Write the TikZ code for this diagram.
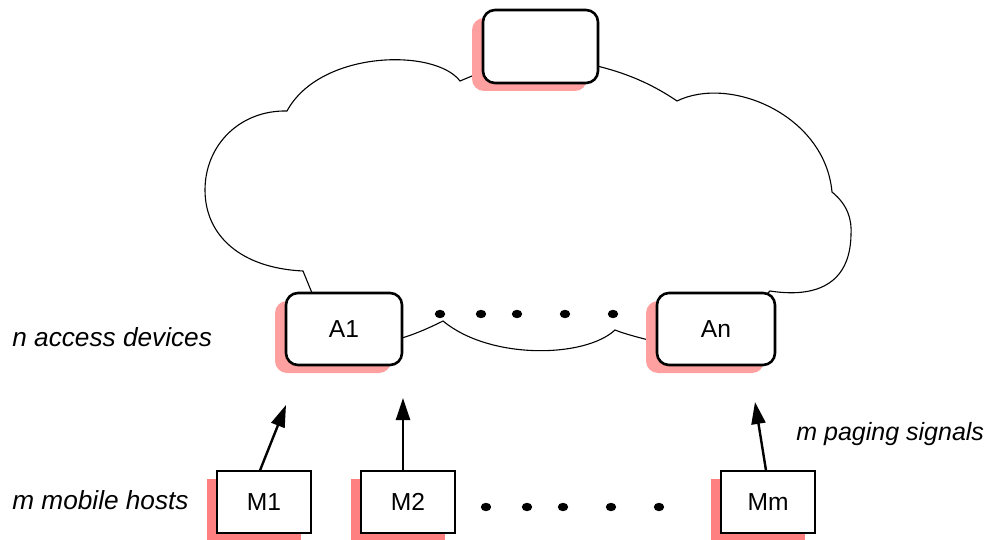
\documentclass[tikz,border=0pt]{standalone}
\usepackage{fontspec}
\setmainfont{Liberation Sans}
\usetikzlibrary{arrows.meta,shadows}
\definecolor{shadowpink}{RGB}{255,160,160}
\definecolor{hostpink}{RGB}{255,128,128}

\begin{document}
\begin{tikzpicture}[
    x=0.5pt, y=-0.5pt,
    cloudline/.style={draw, line width=0.55pt, line join=miter},
    device/.style={draw, line width=1.3pt, rounded corners=6pt, fill=white, minimum width=58pt, minimum height=36pt, inner sep=0pt, font=\fontsize{12.3}{14}\selectfont,
        general shadow={fill=shadowpink, draw=none, shadow xshift=-5.5pt, shadow yshift=-4pt}},
    host/.style={draw, line width=0.6pt, fill=white, minimum width=47pt, minimum height=31pt, inner sep=0pt, font=\fontsize{12.3}{14}\selectfont,
        general shadow={fill=hostpink, draw=none, shadow xshift=-5pt, shadow yshift=-4pt}},
    note/.style={anchor=base west, inner sep=0pt, font=\fontsize{13.1}{15}\selectfont\itshape},
    sig/.style={-{Triangle[length=11pt, width=7pt]}, line width=1.2pt}
]
    \useasboundingbox (0,0) rectangle (996,540);

    \draw[cloudline] (540,50) -- (597,66)
        .. controls (630,74) and (655,86) .. (677,101)
        .. controls (730,75) and (825,115) .. (832,192)
        .. controls (848,205) and (852,220) .. (851,235)
        .. controls (850,285) and (815,298) .. (770,291)
        -- (740,320) -- (657,342)
        .. controls (640,338) and (625,334) .. (615,330)
        .. controls (585,358) and (490,360) .. (443,321)
        .. controls (425,330) and (412,335) .. (402,338)
        -- (340,320) -- (312,293) -- (303,271)
        .. controls (240,268) and (205,235) .. (205,190)
        .. controls (205,145) and (240,110) .. (287,111)
        .. controls (320,50) and (435,48) .. (460,81)
        -- (472,76) -- cycle;

    \node[device, minimum width=57.5pt, minimum height=36.5pt] (core) at (540.5,46.5) {};
    \node[device] (a1) at (344,329) {A1};
    \node[device, minimum width=59pt] (an) at (716,329) {An};

    \node[host] (m1) at (264,502) {M1};
    \node[host] (m2) at (408,502) {M2};
    \node[host] (mm) at (768,502) {Mm};

    \foreach \x in {440,481,517,565,613}
        \fill (\x,314) ellipse [x radius=2.6pt, y radius=2.1pt];
    \foreach \x in {486,527,563,611,659}
        \fill (\x,507) ellipse [x radius=2.6pt, y radius=2.1pt];

    \coordinate (t1) at (286,405);
    \coordinate (t2) at (403,398);
    \coordinate (tm) at (755,402);
    \draw[sig] ([xshift=-2pt]m1.north) -- (t1);
    \draw[sig] ([xshift=-2.5pt]m2.north) -- (t2);
    \draw[sig] ([xshift=-1pt]mm.north) -- (tm);

    \node[note] (ndev) at (12,346) {n access devices};
    \node[note] (nhost) at (12,509) {m mobile hosts};
    \node[note, font=\fontsize{12.5}{15}\selectfont\itshape] (npage) at (796,440) {m paging signals};
\end{tikzpicture}
\end{document}
